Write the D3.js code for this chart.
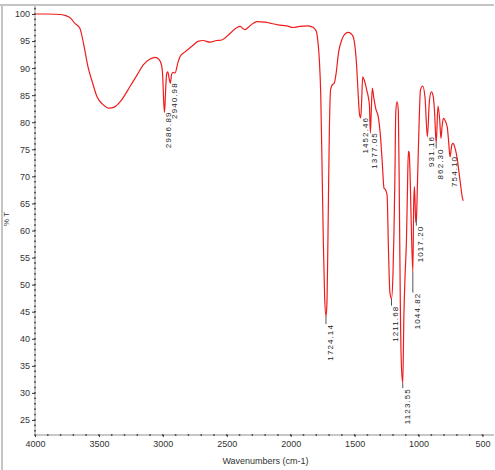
<!DOCTYPE html>
<html>
<head>
<meta charset="utf-8">
<script src="https://cdn.jsdelivr.net/npm/d3@7"></script>
<style>
  html, body { margin: 0; padding: 0; background: #fff; }
  svg { display: block; }
  text { font-family: "Liberation Sans Narrow", "Liberation Sans", Arial, sans-serif; }
</style>
</head>
<body>
<script>
// ---- data ----
const wavenumbers = [4000,3900,3800,3760,3720,3690,3650,3620,3585,3550,3515,3470,3420,3380,3330,3257,3200,3153,3100,3060,3030,3010,3000,2994,2986.89,2980,2970,2962,2950,2940.98,2932,2920,2905,2880,2866,2827,2775,2720,2686,2631,2580,2540,2475,2420,2397,2358,2320,2266,2200,2162,2100,2031,1980,1930,1863,1823,1800,1790,1776,1765,1755,1745,1735,1724.14,1716,1708,1698,1688,1675,1660,1645,1625,1601,1580,1550,1530,1511,1495,1484,1472,1462,1452.46,1445,1437,1425,1406,1392,1384,1377.05,1370,1362,1350,1335,1315,1300,1285,1270,1258,1246,1236,1224,1211.68,1200,1192,1185,1178,1168,1158,1150,1142,1134,1123.55,1115,1105,1095,1088,1080,1074,1066,1058,1044.82,1038,1032,1022,1017.2,1008,998,985,968,950,931.16,915,900,885,875,862.3,848,835,825,815,806,790,775,765,754.1,740,730,718,700,676,655,650];
const transmittance = [100,100,99.9,99.7,99.2,98.3,97.4,94.5,90.2,87.3,84.7,83.3,82.6,82.8,83.9,86.6,88.8,90.6,91.7,92.0,91.6,90.5,88,84,81.8,85,89,89.3,88,87.2,88.8,89.2,89.1,91.2,92.1,93,94,95,95.1,94.8,95.1,95.2,96.4,97.5,97.7,97.1,97.8,98.6,98.5,98.3,98.0,97.8,97.5,97.7,97.8,97.5,96.8,95.5,91.5,85,72,58,48,44.2,47,60,78,86,86.9,87.2,89,93,95.2,96.2,96.6,96.4,95.8,93.5,90.3,85,81.5,80.8,84,88.4,87.8,86,84.5,83,78,82,86.3,84.5,82.5,81,78,73,67.8,67.5,66.5,57,48.5,47.4,52,60,70,82,83.8,82,65,45,35,31.8,44,52,58,66,74.6,74.4,70,62,52.4,65,68.1,61.5,62,69.3,78,86,86.7,84.7,77.3,84,85.6,84.7,82,76.1,83,80.5,77,79.5,80.7,80.2,79,76.5,73.6,75.8,76.1,75.5,73.6,69.3,65.8,65.5];

const peakWavenumbers = [2986.89,2940.98,1724.14,1452.46,1377.05,1211.68,1123.55,1044.82,1017.2,931.16,862.3,754.1];
const peakLabels = ["2986.89","2940.98","1724.14","1452.46","1377.05","1211.68","1123.55","1044.82","1017.20","931.16","862.30","754.10"];
const peakTransmittance = [81.8,87.2,44.2,80.8,78,47.4,31.8,52.4,62,77.3,76.1,73.6];

const xTicks = [4000,3500,3000,2500,2000,1500,1000,500];
const yTicks = [25,30,35,40,45,50,55,60,65,70,75,80,85,90,95,100];
const xLabel = "Wavenumbers (cm-1)";
const yLabel = "% T";

// ---- layout ----
const W = 495, H = 470;
const mLeft = 35, mRight = 494, mTop = 5, mBottom = 435;

const svg = d3.select("body").append("svg").attr("width", W).attr("height", H);

const x = d3.scaleLinear().domain([4000, 410]).range([mLeft, mRight]);
const y = d3.scaleLinear().domain([22.22, 101.66]).range([mBottom, mTop]);

// frame
svg.append("line").attr("x1", 0).attr("x2", mRight).attr("y1", mTop).attr("y2", mTop)
  .attr("stroke", "#c4c4c4").attr("stroke-width", 2);
svg.append("line").attr("x1", 2).attr("x2", 2).attr("y1", mTop).attr("y2", H)
  .attr("stroke", "#c4c4c4").attr("stroke-width", 2);

// axes
const gx = svg.append("g").attr("transform", `translate(0,${mBottom})`)
  .call(d3.axisBottom(x).tickValues(xTicks).tickSize(2).tickPadding(4).tickFormat(d3.format("d")));
const gy = svg.append("g").attr("transform", `translate(${mLeft},0)`)
  .call(d3.axisLeft(y).tickValues(yTicks).tickSize(3).tickPadding(2).tickFormat(d3.format("d")));
[gx, gy].forEach(g => {
  g.select(".domain").attr("stroke", "#c8c8c8").attr("stroke-width", 2);
  g.selectAll(".tick line").attr("stroke", "#333");
  g.selectAll(".tick text").attr("fill", "#333").attr("font-size", 9)
    .attr("font-family", "'Liberation Sans Narrow','Liberation Sans',Arial,sans-serif");
});
gy.select(".domain").attr("d", `M0,${mTop}V${mBottom}`);
gx.select(".domain").attr("d", `M${mLeft},0H${mRight}`);

// minor dots
const xMinor = d3.range(4000, 410, -100);
svg.append("g").selectAll("rect").data(xMinor).join("rect")
  .attr("x", d => x(d) - 0.75).attr("y", mBottom - 0.75).attr("width", 1.5).attr("height", 1.5)
  .attr("fill", "#333");
const yMinor = d3.range(23, 102, 1);
svg.append("g").selectAll("rect").data(yMinor).join("rect")
  .attr("x", mLeft - 0.75).attr("y", d => y(d) - 0.75).attr("width", 1.5).attr("height", 1.5)
  .attr("fill", "#333");

// axis titles
svg.append("text").attr("x", (mLeft + mRight) / 2 + 1).attr("y", 464)
  .attr("text-anchor", "middle").attr("font-size", 9).attr("fill", "#333").text(xLabel);
svg.append("text").attr("transform", `translate(9,219) rotate(-90)`)
  .attr("text-anchor", "middle").attr("font-size", 8).attr("fill", "#333").text(yLabel);

// spectrum
const pts = wavenumbers.map((w, i) => [w, transmittance[i]]);
svg.append("path").datum(pts)
  .attr("fill", "none").attr("stroke", "#ee1c1c").attr("stroke-width", 1.2)
  .attr("stroke-linejoin", "round")
  .attr("d", d3.line().x(d => x(d[0])).y(d => y(d[1])).curve(d3.curveMonotoneX));

// peak labels
const gaps = {"1724.14": 8, "1211.68": 7, "1044.82": 21, "1017.20": 6, "1123.55": 5, "862.30": 5};
const lg = svg.append("g");
peakLabels.forEach((lab, i) => {
  const px = x(peakWavenumbers[i]);
  const py = y(peakTransmittance[i]);
  const gap = gaps[lab] !== undefined ? gaps[lab] : -1;
  if (gap > 3) {
    lg.append("line").attr("x1", px).attr("x2", px).attr("y1", py).attr("y2", py + gap)
      .attr("stroke", "#555").attr("stroke-width", 1);
  }
  lg.append("text")
    .attr("transform", `translate(${px},${py + gap}) rotate(-90)`)
    .attr("text-anchor", "end").attr("dy", "0.85em")
    .attr("font-size", 8).attr("letter-spacing", 1.1)
    .attr("font-family", "'Liberation Sans','DejaVu Sans',Arial,sans-serif")
    .attr("fill", "#222").text(lab);
});
</script>
</body>
</html>
